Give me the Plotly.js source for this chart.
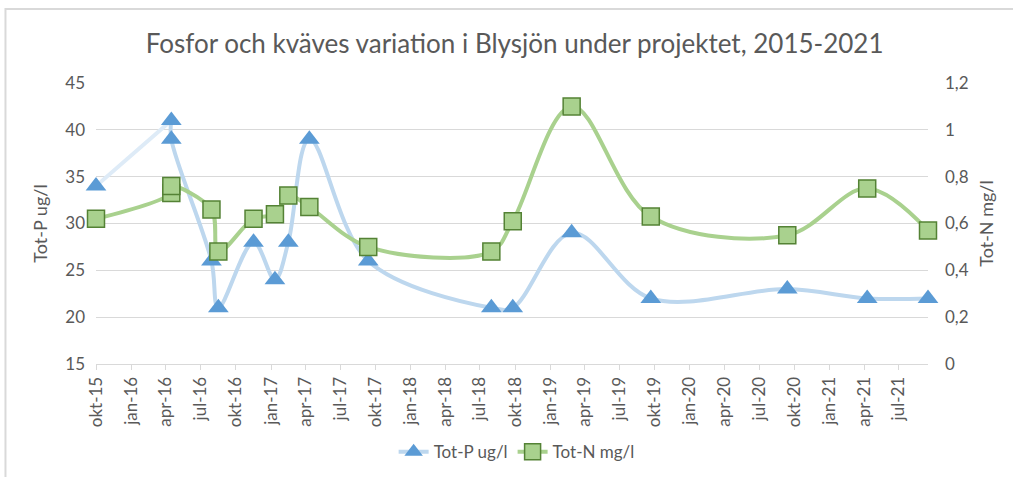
<!DOCTYPE html>
<html>
<head>
<meta charset="utf-8">
<script src="https://cdn.plot.ly/plotly-3.0.1.min.js"></script>
<style>
  html, body { margin: 0; padding: 0; background: #fff; }
  #chart { width: 1013px; height: 477px; }
</style>
</head>
<body>
<div id="chart"></div>
<script>
// sample dates (two samples in april 2016)
let sampleDates = ['2015-10-01', '2016-04-15', '2016-04-15', '2016-07-29', '2016-08-16',
    '2016-11-16', '2017-01-11', '2017-02-15', '2017-04-11', '2017-09-12', '2018-07-31',
    '2018-09-25', '2019-02-26', '2019-09-21', '2020-09-12', '2021-04-09', '2021-09-15'];
let totP = [34, 41, 39, 26, 21, 28, 24, 28, 39, 26, 21, 21, 29, 22, 23, 22, 22];
let totN = [0.62, 0.73, 0.76, 0.66, 0.48, 0.62, 0.64, 0.72, 0.67, 0.50, 0.48, 0.61, 1.10, 0.63, 0.55, 0.75, 0.57];

let tickDates = ['2015-10-01', '2016-01-01', '2016-04-01', '2016-07-01', '2016-10-01', '2017-01-01',
    '2017-04-01', '2017-07-01', '2017-10-01', '2018-01-01', '2018-04-01', '2018-07-01',
    '2018-10-01', '2019-01-01', '2019-04-01', '2019-07-01', '2019-10-01', '2020-01-01',
    '2020-04-01', '2020-07-01', '2020-10-01', '2021-01-01', '2021-04-01', '2021-07-01'];
let tickLabels = ['okt-15', 'jan-16', 'apr-16', 'jul-16', 'okt-16', 'jan-17', 'apr-17', 'jul-17',
    'okt-17', 'jan-18', 'apr-18', 'jul-18', 'okt-18', 'jan-19', 'apr-19', 'jul-19', 'okt-19',
    'jan-20', 'apr-20', 'jul-20', 'okt-20', 'jan-21', 'apr-21', 'jul-21'];

let txt = '#595959';
let grid = '#d9d9d9';
let font = 'Lato, "Open Sans", sans-serif';

let pMarker = {symbol: 'triangle-up', size: 18, color: '#5b9bd5', line: {width: 0}};

// first P segment is drawn paler in the original
let pFirst = {x: sampleDates.slice(0, 2), y: totP.slice(0, 2), mode: 'lines',
    line: {color: '#deebf7', width: 4}, showlegend: false, hoverinfo: 'skip', cliponaxis: false};
let pMain = {x: sampleDates.slice(1), y: totP.slice(1), mode: 'lines+markers', name: 'Tot-P ug/l',
    line: {color: '#bdd7ee', width: 4, shape: 'spline', smoothing: 1},
    marker: pMarker, cliponaxis: false};
let pStart = {x: sampleDates.slice(0, 1), y: totP.slice(0, 1), mode: 'markers',
    marker: pMarker, showlegend: false, cliponaxis: false};
let nLine = {x: sampleDates, y: totN, mode: 'lines+markers', name: 'Tot-N mg/l', yaxis: 'y2',
    line: {color: '#a9d18e', width: 4, shape: 'spline', smoothing: 1},
    marker: {symbol: 'square', size: 17, color: '#a9d18e', line: {color: '#548235', width: 1.5}},
    cliponaxis: false};

let layout = {
    width: 1013, height: 477,
    margin: {l: 96, r: 85, t: 83, b: 113},
    paper_bgcolor: '#fff', plot_bgcolor: '#fff',
    separators: ', ',
    font: {family: font, color: txt, size: 16},
    title: {text: 'Fosfor och kväves variation i Blysjön under projektet, 2015-2021',
        font: {size: 26, color: txt, family: font}, x: 0.508, xanchor: 'center', y: 0.908, yanchor: 'middle'},
    xaxis: {type: 'date', range: ['2015-10-01', '2021-09-15'], tickvals: tickDates, ticktext: tickLabels,
        tickangle: -90, tickfont: {size: 17, color: txt}, showgrid: false, zeroline: false, automargin: false,
        showline: true, linecolor: grid, linewidth: 1, ticks: 'outside', ticklen: 5, tickcolor: grid},
    yaxis: {range: [15, 45], dtick: 5, showgrid: true, gridcolor: grid, gridwidth: 1, zeroline: false,
        tickfont: {size: 17, color: txt}, ticklabelstandoff: 10, automargin: false,
        title: {text: 'Tot-P ug/l', font: {size: 18, color: txt}, standoff: 12}},
    yaxis2: {range: [0, 1.2], dtick: 0.2, overlaying: 'y', side: 'right', showgrid: false, zeroline: false,
        tickfont: {size: 17, color: txt}, ticklabelstandoff: 16, automargin: false,
        title: {text: 'Tot-N mg/l', font: {size: 18, color: txt}, standoff: 12}},
    legend: {orientation: 'h', xref: 'container', x: 0.51, xanchor: 'center',
        yref: 'container', y: 0.052, yanchor: 'middle', font: {size: 17, color: txt}},
    showlegend: true,
    shapes: [{type: 'rect', xref: 'paper', yref: 'paper', x0: -0.1088, x1: 1.2, y0: -0.5, y1: 1.263,
        line: {color: grid, width: 2}, fillcolor: 'rgba(0,0,0,0)', layer: 'below'}]
};

Plotly.newPlot('chart', [pFirst, pMain, pStart, nLine], layout, {displayModeBar: false});
</script>
</body>
</html>
